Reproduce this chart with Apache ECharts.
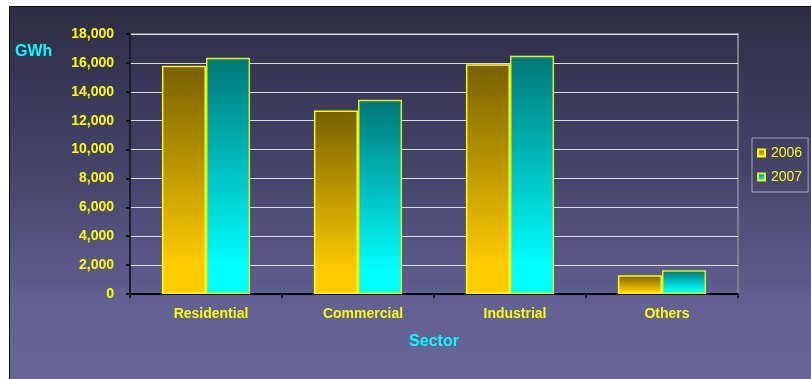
<!DOCTYPE html>
<html>
<head>
<meta charset="utf-8">
<script src="https://cdn.jsdelivr.net/npm/echarts@6/dist/echarts.min.js"></script>
<style>
  html, body { margin: 0; padding: 0; background: #ffffff; }
  #frame {
    position: absolute; left: 9px; top: 6px; width: 802px; height: 373px;
    border-left: 1px solid #111; border-top: 1px solid #111; box-sizing: border-box;
  }
  #chart { width: 801px; height: 372px; }
</style>
</head>
<body>
<div id="frame"><div id="chart"></div></div>
<script>
// Electricity consumption by sector, GWh
const sectors = ['Residential', 'Commercial', 'Industrial', 'Others'];
const years = ['2006', '2007'];
const values2006 = [15800, 12700, 15900, 1300];
const values2007 = [16350, 13450, 16500, 1650];
const yTicks = { min: 0, max: 18000, interval: 2000 };

const fontFamily = 'Liberation Sans, Arial, sans-serif';

function vGrad(top, bottom, stopAt) {
  return new echarts.graphic.LinearGradient(0, 0, 0, 1, [
    { offset: 0, color: top },
    { offset: stopAt, color: bottom },
    { offset: 1, color: bottom }
  ]);
}

const chart = echarts.init(document.getElementById('chart'), null, { renderer: 'canvas' });

chart.setOption({
  animation: false,
  backgroundColor: new echarts.graphic.LinearGradient(0, 0, 0, 1, [
    { offset: 0, color: '#2d2d45' },
    { offset: 0.45, color: '#45456c' },
    { offset: 0.8, color: '#616193' },
    { offset: 1, color: '#666699' }
  ]),
  textStyle: { fontFamily: fontFamily },
  grid: {
    left: 120, top: 27, right: 73, bottom: 85,
    show: true, borderColor: '#808080', borderWidth: 2, backgroundColor: 'transparent'
  },
  legend: {
    orient: 'vertical',
    left: 742, top: 131,
    padding: [8, 6, 8, 5],
    itemGap: 10,
    itemWidth: 7, itemHeight: 7,
    borderColor: '#a0a0b8', borderWidth: 1,
    data: years.map(y => ({ name: y, icon: 'rect' })),
    textStyle: { color: '#ffff00', fontSize: 14, fontFamily: fontFamily, padding: [0, 0, 0, 1] }
  },
  graphic: [
    {
      type: 'text', left: 5, top: 37,
      style: { text: 'GWh', fill: '#00ffff', font: 'bold 16px ' + fontFamily }
    }
  ],
  xAxis: {
    type: 'category',
    data: sectors,
    name: 'Sector',
    nameLocation: 'middle',
    nameGap: 40,
    nameTextStyle: { color: '#00ffff', fontSize: 16, fontWeight: 'bold', fontFamily: fontFamily },
    axisLine: { lineStyle: { color: '#000000', width: 2 } },
    axisTick: { show: true, length: 4, lineStyle: { color: '#222233', width: 2 } },
    axisLabel: {
      color: '#ffff00', fontSize: 14, fontWeight: 'bold', margin: 13,
      padding: [0, 0, 0, 10]
    }
  },
  yAxis: {
    type: 'value',
    min: yTicks.min, max: yTicks.max, interval: yTicks.interval,
    axisLine: { show: true, lineStyle: { color: '#1c1c2c', width: 2 } },
    axisTick: { show: true, length: 4, lineStyle: { color: '#111111', width: 2 } },
    axisLabel: {
      color: '#ffff00', fontSize: 14, fontWeight: 'bold', margin: 16,
      formatter: v => v.toLocaleString('en-US')
    },
    splitLine: { lineStyle: { color: '#dcdcdc', width: 1 } }
  },
  series: [
    {
      name: years[0], type: 'bar', data: values2006,
      barGap: '0%', barCategoryGap: '42%',
      itemStyle: {
        color: vGrad('#776000', '#ffcc00', 0.88),
        borderColor: '#ffff00', borderWidth: 1.5
      }
    },
    {
      name: years[1], type: 'bar', data: values2007,
      itemStyle: {
        color: vGrad('#007676', '#00ffff', 0.88),
        borderColor: '#d8f21a', borderWidth: 1.5
      }
    }
  ]
});
</script>
</body>
</html>
